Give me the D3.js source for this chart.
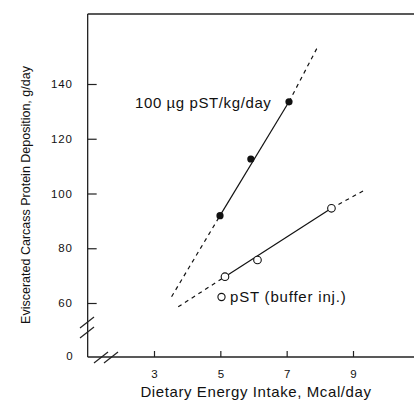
<!DOCTYPE html>
<html>
<head>
<meta charset="utf-8">
<script src="https://cdn.jsdelivr.net/npm/d3@7"></script>
<style>
  body { margin: 0; background: #fff; }
  svg text { font-family: "Liberation Sans", Arial, sans-serif; fill: #111; }
</style>
</head>
<body>
<svg id="chart" width="414" height="402"></svg>
<script>
"use strict";

// pST treated pigs (filled) and buffer injected (open)
const pstX = [4.99, 5.92, 7.07];
const pstY = [91.9, 112.6, 133.5];
const bufX = [5.14, 6.12, 8.35];
const bufY = [69.6, 75.7, 94.6];

// fitted lines: dashed start, solid start, solid end, dashed end
const pstLineX = [3.53, 4.99, 7.07, 7.91];
const pstLineY = [62.3, 91.9, 133.5, 153];
const bufLineX = [3.73, 5.14, 8.35, 9.36];
const bufLineY = [58.6, 69.6, 94.6, 101.3];

const xTicks = [3, 5, 7, 9];
const yTicks = [60, 80, 100, 120, 140];
const yBreakLabel = "0";

const svg = d3.select("#chart");

const x = d3.scaleLinear().domain([3, 9]).range([154, 353]);
const y = d3.scaleLinear().domain([60, 140]).range([303, 84]);

const X0 = x(1), Y0 = 357, TOP = 14, RIGHT = 414;

// frame top + axes lines
svg.append("line").attr("x1", X0).attr("x2", RIGHT).attr("y1", TOP).attr("y2", TOP)
  .attr("stroke", "#222").attr("stroke-width", 1.3);

const xAxis = d3.axisBottom(x).tickValues(xTicks).tickSize(-6).tickPadding(13)
  .tickFormat(d3.format("d"));
const gx = svg.append("g").attr("transform", "translate(0," + Y0 + ")").call(xAxis);
gx.select(".domain").remove();
gx.selectAll(".tick line").attr("stroke", "#222").attr("stroke-width", 1.2);
gx.selectAll(".tick text").attr("font-size", 11.5).attr("fill", "#111");
svg.append("line").attr("x1", X0).attr("x2", RIGHT).attr("y1", Y0).attr("y2", Y0)
  .attr("stroke", "#222").attr("stroke-width", 1.3);

const yAxis = d3.axisLeft(y).tickValues(yTicks).tickSize(-9).tickPadding(15)
  .tickFormat(d3.format("d"));
const gy = svg.append("g").attr("transform", "translate(" + X0 + ",0)").call(yAxis);
gy.select(".domain").remove();
gy.selectAll(".tick line").attr("stroke", "#222").attr("stroke-width", 1.2);
gy.selectAll(".tick text").attr("font-size", 11.5).attr("letter-spacing", "0.8px").attr("fill", "#111");
svg.append("line").attr("x1", X0).attr("x2", X0).attr("y1", TOP).attr("y2", Y0)
  .attr("stroke", "#222").attr("stroke-width", 1.3);

svg.append("text").attr("x", X0 - 15).attr("y", Y0 - 1).attr("dy", "0.32em")
  .attr("text-anchor", "end").attr("font-size", 11.5).text(yBreakLabel);

// axis break marks
const breaks = svg.append("g").attr("stroke", "#222").attr("stroke-width", 1.2).attr("fill", "none");
[[80, 328, 94, 317], [80, 338, 94, 327]].forEach(function(s) {
  breaks.append("line").attr("x1", s[0]).attr("y1", s[1]).attr("x2", s[2]).attr("y2", s[3]);
});
[[94, 363, 108, 352], [104, 363, 118, 352]].forEach(function(s) {
  breaks.append("line").attr("x1", s[0]).attr("y1", s[1]).attr("x2", s[2]).attr("y2", s[3]);
});

// lines
function drawFit(lx, ly) {
  const seg = [[0, 1, true], [1, 2, false], [2, 3, true]];
  seg.forEach(function(s) {
    svg.append("line")
      .attr("x1", x(lx[s[0]])).attr("y1", y(ly[s[0]]))
      .attr("x2", x(lx[s[1]])).attr("y2", y(ly[s[1]]))
      .attr("stroke", "#111").attr("stroke-width", 1.2)
      .attr("stroke-dasharray", s[2] ? "4,4" : null);
  });
}
drawFit(pstLineX, pstLineY);
drawFit(bufLineX, bufLineY);

svg.selectAll("circle.pst").data(pstX).enter().append("circle")
  .attr("class", "pst")
  .attr("cx", function(d) { return x(d); })
  .attr("cy", function(d, i) { return y(pstY[i]); })
  .attr("r", 3.6).attr("fill", "#111");

svg.selectAll("circle.buf").data(bufX).enter().append("circle")
  .attr("class", "buf")
  .attr("cx", function(d) { return x(d); })
  .attr("cy", function(d, i) { return y(bufY[i]); })
  .attr("r", 3.8).attr("fill", "#fff").attr("stroke", "#111").attr("stroke-width", 1.1);

// labels
svg.append("text").attr("x", 135).attr("y", 108).attr("font-size", 15)
  .attr("letter-spacing", "0.6px").text("100 \u00b5g pST/kg/day");

svg.append("circle").attr("cx", 221.5).attr("cy", 297).attr("r", 3.6)
  .attr("fill", "#fff").attr("stroke", "#111").attr("stroke-width", 1.1);
svg.append("text").attr("x", 230).attr("y", 302).attr("font-size", 15)
  .attr("letter-spacing", "0.8px").text("pST (buffer inj.)");

svg.append("text").attr("x", 256).attr("y", 397).attr("text-anchor", "middle")
  .attr("font-size", 15).attr("letter-spacing", "0.6px").text("Dietary Energy Intake, Mcal/day");

svg.append("text").attr("transform", "translate(30,195) rotate(-90)")
  .attr("text-anchor", "middle").attr("font-size", 12.5)
  .text("Eviscerated Carcass Protein Deposition, g/day");
</script>
</body>
</html>
